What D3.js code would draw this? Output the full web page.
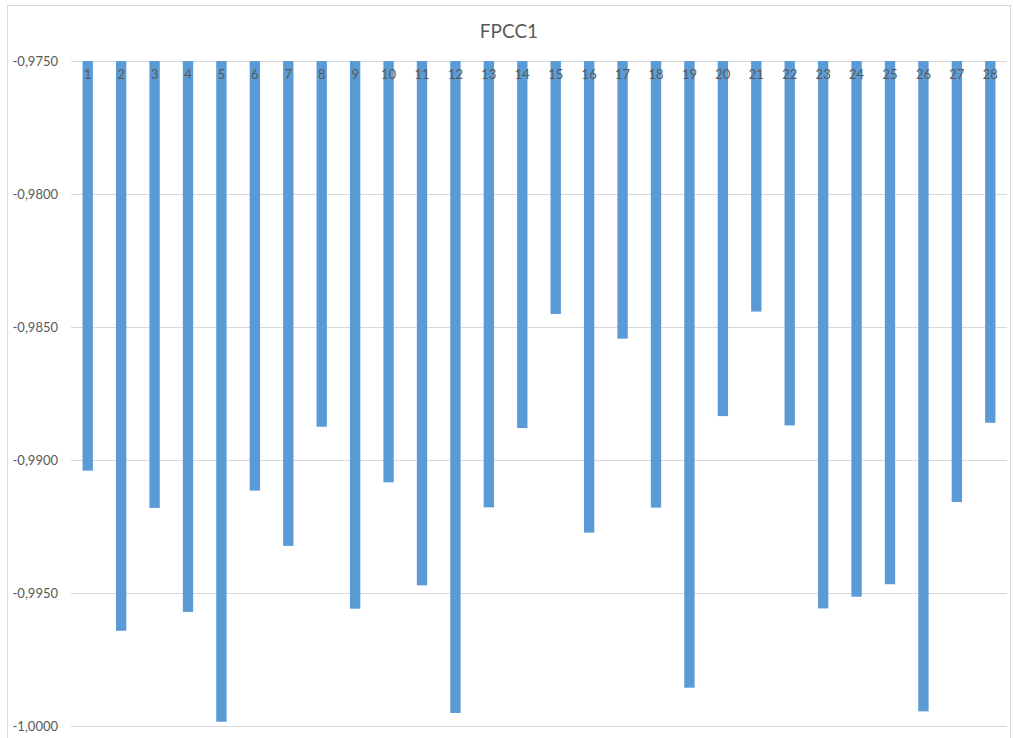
<!DOCTYPE html>
<html><head><meta charset="utf-8">
    <style>
        body {
            margin: 0;
            background: white;
            font-family: Lato, "Open Sans", sans-serif;
        }
        svg { display: block; }
    </style>
    <script src="https://cdn.jsdelivr.net/npm/d3@7/dist/d3.min.js"></script>
</head>
<body>
    <svg id="chart"></svg>
<script>
    // values
    let categories = d3.range(1, 29).map(String)
    let values = [
        -0.99040, -0.99642, -0.99180, -0.99571, -0.99984, -0.99115, -0.99323,
        -0.98875, -0.99559, -0.99084, -0.99471, -0.99951, -0.99178, -0.98880,
        -0.98451, -0.99273, -0.98544, -0.99179, -0.99856, -0.98835, -0.98442,
        -0.98870, -0.99558, -0.99514, -0.99467, -0.99945, -0.99158, -0.98860
    ]
    let yTicks = [-0.975, -0.98, -0.985, -0.99, -0.995, -1.0]
    let title = "FPCC1"

    let width = 1013, height = 738
    let margin = { top: 61, bottom: 12, left: 71, right: 6 }
    let textColor = "#595959"

    let svg = d3.select("#chart")
        .attr("width", width)
        .attr("height", height)

    // chart border
    svg.append("rect")
        .attr("x", 7.5).attr("y", 5.5)
        .attr("width", width - 10).attr("height", height - 4)
        .attr("fill", "white")
        .attr("stroke", "#d9d9d9")

    let xScale = d3.scaleBand()
        .domain(categories)
        .range([margin.left, width - margin.right])
        .paddingInner(0.69)
        .paddingOuter(0.345)

    let yScale = d3.scaleLinear()
        .domain([-0.975, -1.0])
        .range([margin.top, height - margin.bottom])

    let locale = d3.formatLocale({ decimal: ",", thousands: ".", grouping: [3], currency: ["", ""], minus: "-" })
    let fmt = locale.format(".4f")

    // gridlines + y labels
    let axisY = d3.axisLeft(yScale)
        .tickValues(yTicks)
        .tickSize(-(width - margin.right - margin.left))
        .tickPadding(13)
        .tickFormat(fmt)

    let gy = svg.append("g")
        .attr("transform", `translate(${margin.left},0)`)
        .call(axisY)
    gy.select(".domain").remove()
    gy.selectAll(".tick line").attr("stroke", "#d9d9d9")
    gy.selectAll(".tick text")
        .attr("fill", textColor)
        .style("font-size", "13px")
        .style("font-family", "Lato, sans-serif")

    // bars hang from the top of the axis
    svg.append("g").selectAll("rect")
        .data(values)
        .enter().append("rect")
        .attr("x", (d, i) => xScale(categories[i]))
        .attr("width", xScale.bandwidth())
        .attr("y", yScale(-0.975))
        .attr("height", d => yScale(d) - yScale(-0.975))
        .attr("fill", "#5b9bd5")

    // category labels at the top, over the bars
    let axisX = d3.axisBottom(xScale)
        .tickSize(0)
        .tickPadding(9)
    let gx = svg.append("g")
        .attr("transform", `translate(0,${margin.top})`)
        .call(axisX)
    gx.select(".domain").remove()
    gx.selectAll(".tick text")
        .attr("fill", textColor)
        .style("font-size", "13px")
        .style("font-family", "Lato, sans-serif")

    svg.append("text")
        .attr("x", 509)
        .attr("y", 38)
        .attr("text-anchor", "middle")
        .attr("fill", textColor)
        .style("font-size", "19px")
        .style("font-family", "Lato, sans-serif")
        .text(title)
</script>
</body>
</html>
